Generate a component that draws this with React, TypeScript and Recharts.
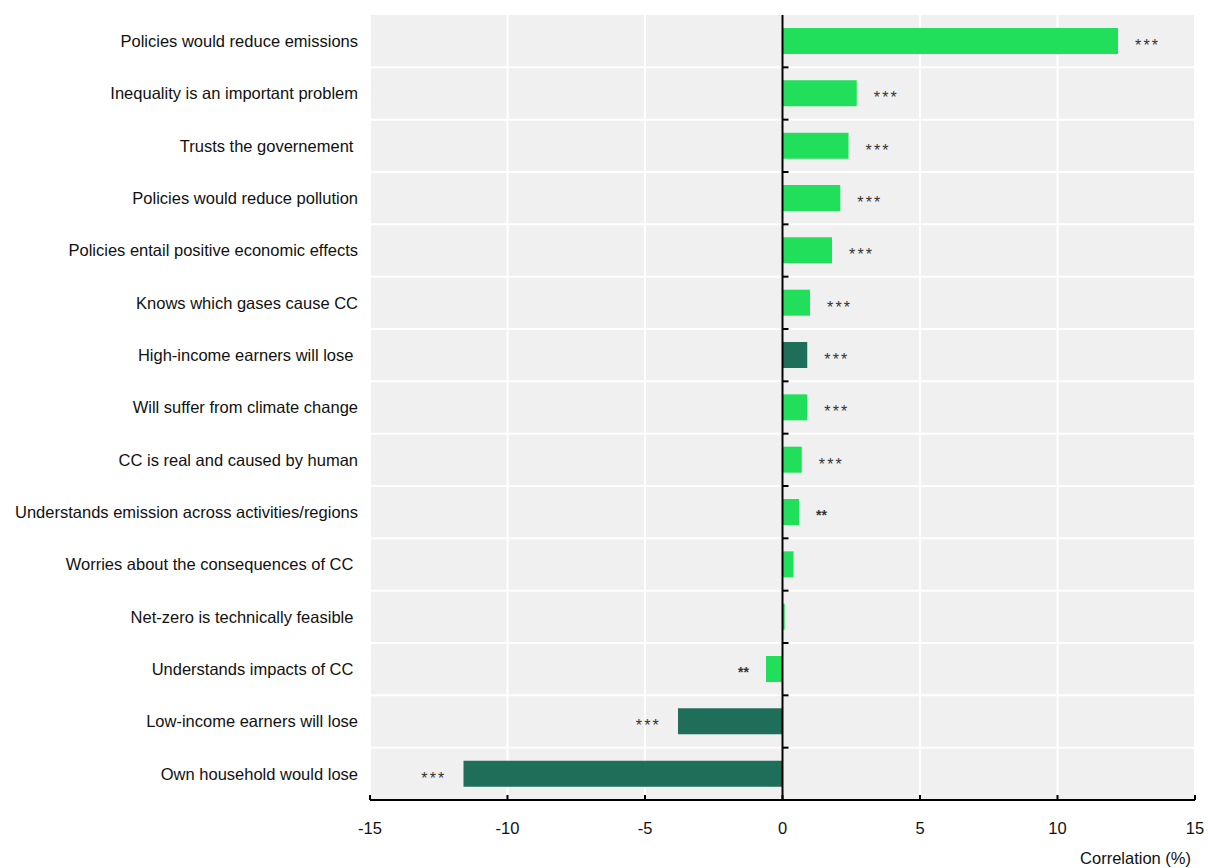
import React from 'react';
import { BarChart, Bar, XAxis, YAxis, CartesianGrid, ReferenceLine, LabelList, Cell } from 'recharts';

// 类别（从上到下）
const categories = [
  'Policies would reduce emissions',
  'Inequality is an important problem',
  'Trusts the governement ',
  'Policies would reduce pollution',
  'Policies entail positive economic effects',
  'Knows which gases cause CC',
  'High-income earners will lose ',
  'Will suffer from climate change',
  'CC is real and caused by human',
  'Understands emission across activities/regions',
  'Worries about the consequences of CC ',
  'Net-zero is technically feasible ',
  'Understands impacts of CC ',
  'Low-income earners will lose',
  'Own household would lose',
];

// 相关系数 (%)
const correlations = [12.2, 2.7, 2.4, 2.1, 1.8, 1.0, 0.9, 0.9, 0.7, 0.6, 0.4, 0.08, -0.6, -3.8, -11.6];

// 显著性标记
const significance = ['***', '***', '***', '***', '***', '***', '***', '***', '***', '**', '', '', '**', '***', '***'];

// 深色条（收入/损失相关）
const darkRows = [false, false, false, false, false, false, true, false, false, false, false, false, false, true, true];

const xTicks = [-15, -10, -5, 0, 5, 10, 15];

const GREEN = '#22df5b';
const DARK = '#1f6e5a';
const FONT = '"Liberation Sans", Arial, sans-serif';

const chartData = categories.map((name, i) => ({
  name,
  value: correlations[i],
  stars: significance[i],
  dark: darkRows[i],
}));

// 左侧标签，保留末尾空格
const CategoryTick = ({ x, y, payload }: any) => (
  <text
    x={x}
    y={y}
    dy="0.355em"
    textAnchor="end"
    fontSize={16.5}
    fontFamily={FONT}
    fill="#111"
    style={{ whiteSpace: 'pre' }}
  >
    {payload.value}
  </text>
);

// 星号标记
const StarsLabel = (props: any) => {
  const { x, y, width, height, index } = props;
  const stars = significance[index];
  if (!stars) return null;
  const left = Math.min(x, x + width);
  const right = Math.max(x, x + width);
  const negative = correlations[index] < 0;
  const bold = stars === '**';
  return (
    <text
      x={negative ? left - 17 : right + 17}
      y={y + height / 2 + (bold ? 8 : 10)}
      textAnchor={negative ? 'end' : 'start'}
      fontSize={bold ? 14 : 16}
      fontWeight={bold ? 'bold' : 'normal'}
      letterSpacing={bold ? 0 : 2.2}
      fontFamily={FONT}
      fill="#333"
    >
      {stars}
    </text>
  );
};

// 零轴及其刻度
const ZeroAxis = (props: any) => {
  const { x1, y1, x2, y2 } = props;
  const n = categories.length;
  const marks = [];
  for (let i = 0; i < n; i++) {
    const yy = y1 + ((y2 - y1) * i) / n;
    marks.push(<line key={i} x1={x1} x2={x1 + 6} y1={yy} y2={yy} stroke="#000" strokeWidth={2} />);
  }
  return (
    <g>
      <line x1={x1} y1={y1} x2={x2} y2={y2} stroke="#000" strokeWidth={2} />
      {marks}
    </g>
  );
};

export default function App() {
  return (
    <div style={{ position: 'absolute', left: 0, top: 0, background: '#fff' }}>
      <BarChart
        width={1208}
        height={868}
        data={chartData}
        layout="vertical"
        margin={{ top: 15, right: 13, bottom: 0, left: 0 }}
        barSize={26}
      >
        <CartesianGrid
          fill="#f0f0f0"
          fillOpacity={1}
          stroke="#ffffff"
          strokeWidth={2}
          horizontalCoordinatesGenerator={({ offset }: any) =>
            categories.slice(1).map((_, i) => offset.top + (offset.height * (i + 1)) / categories.length)
          }
        />
        <XAxis
          type="number"
          domain={[-15, 15]}
          ticks={xTicks}
          height={68}
          tickSize={-5}
          tickMargin={27}
          axisLine={{ stroke: '#000', strokeWidth: 2 }}
          tickLine={{ stroke: '#000', strokeWidth: 2 }}
          tick={{ fill: '#111', fontSize: 16.5, fontFamily: FONT }}
          label={{
            value: 'Correlation (%)',
            position: 'insideBottomRight',
            offset: 4,
            fill: '#111',
            fontSize: 16.5,
            fontFamily: FONT,
          }}
        />
        <YAxis
          type="category"
          dataKey="name"
          width={370}
          axisLine={false}
          tickLine={false}
          tickSize={0}
          tickMargin={12}
          interval={0}
          tick={<CategoryTick />}
        />
        <Bar dataKey="value" isAnimationActive={false}>
          {chartData.map((d, i) => (
            <Cell key={`cell-${i}`} fill={d.dark ? DARK : GREEN} />
          ))}
          <LabelList dataKey="stars" content={<StarsLabel />} />
        </Bar>
        <ReferenceLine x={0} shape={<ZeroAxis />} />
      </BarChart>
    </div>
  );
}
